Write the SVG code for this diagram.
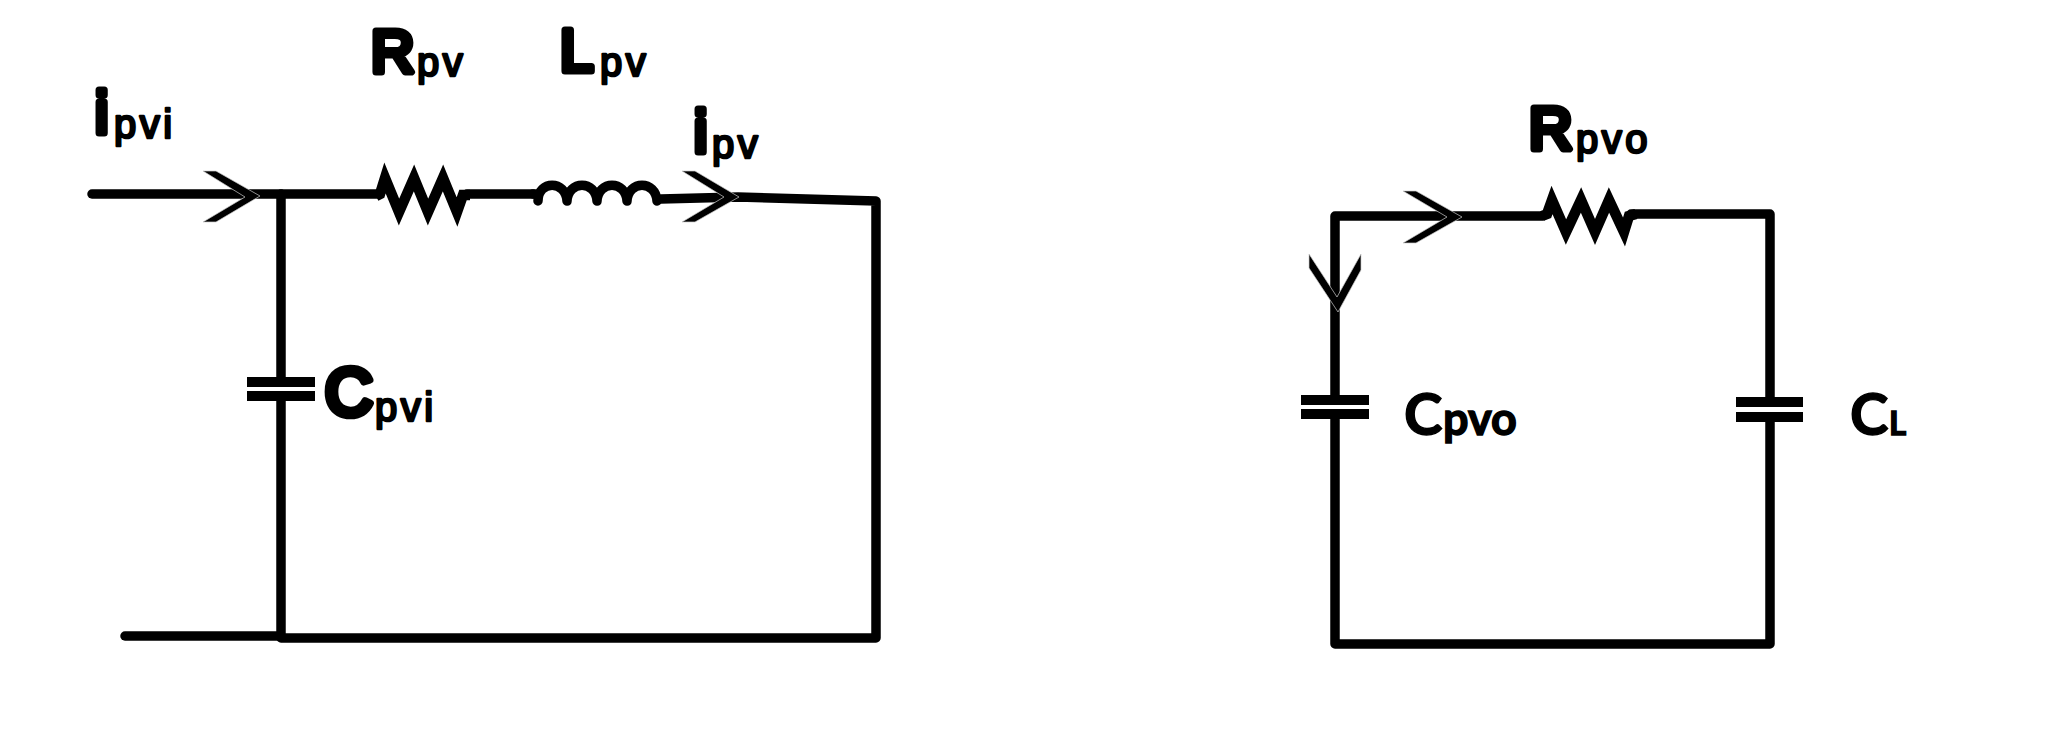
<svg xmlns="http://www.w3.org/2000/svg" width="2055" height="730" viewBox="0 0 2055 730">
<style>
.w{fill:none;stroke:#000;stroke-width:9.5;stroke-linecap:round;stroke-linejoin:round}
.z{fill:none;stroke:#000;stroke-width:10.5;stroke-linecap:butt;stroke-linejoin:miter;stroke-miterlimit:10}
.coil{fill:none;stroke:#000;stroke-width:9.5;stroke-linecap:round;stroke-linejoin:round}
.a{fill:#000;stroke:#ccc;stroke-width:.7}
.p{fill:#000}
.r{font-family:"Liberation Sans",Arial,sans-serif;font-weight:400;fill:#000;stroke:#000;stroke-linejoin:round;stroke-linecap:round}
.r .b{font-size:60px;stroke-width:7}
.r .s{font-size:40px;stroke-width:2.5;letter-spacing:3.5px}
.r .k{font-size:66px;stroke-width:7.5}
.c{font-family:Lato,"Liberation Sans",sans-serif;font-weight:700;fill:#000;stroke:#000;stroke-width:1.4}
</style>
<rect width="2055" height="730" fill="#fff"/>
<g id="connectors">
<path class="w" d="M92 194H378"/>
<path class="w" d="M281 194V377"/>
<path class="w" d="M281 401V637"/>
<path class="w" d="M467 194H533"/>
<path class="w" d="M661 199L738 197L876 201V638H281"/>
<path class="w" d="M125 636H281"/>
<path class="w" d="M1335 395V216H1543"/>
<path class="w" d="M1335 419V644H1770V421"/>
<path class="w" d="M1631 214H1770V397"/>
</g>
<g id="arrow-ipvi"><path class="a" d="M203 171H216L260 196L216 222H203L245 197Z"/></g>
<g id="arrow-ipv"><path class="a" d="M682 171H695L739 197L695 222H682L724 197Z"/></g>
<g id="arrow-top"><path class="a" d="M1403 191H1416L1462 217L1416 243H1403L1447 217Z"/></g>
<g id="arrow-down"><path class="a" d="M1309 254L1337 297L1361 254V270L1338 312L1309 268Z"/></g>
<g id="Rpv"><path class="z" d="M376 196L380 194L385 178L399 212L414 178L428 212L443 178L457 212L463 195H470"/></g>
<g id="Lpv"><path class="coil" d="M533 194H537M538 201C538 180 566 180 567 201C568 180 596 180 597 201C598 180 626 180 627 201C628 180 656 180 657 201"/></g>
<g id="Cpvi"><rect class="p" x="247" y="377" width="68" height="10"/><rect class="p" x="247" y="391" width="68" height="10"/></g>
<g id="Rpvo"><path class="z" d="M1542 216L1547 214L1552 200L1566 232L1581 200L1595 232L1609 200L1624 232L1629 216L1636 214"/></g>
<g id="Cpvo"><rect class="p" x="1301" y="395" width="68" height="10"/><rect class="p" x="1301" y="409" width="68" height="10"/></g>
<g id="CL"><rect class="p" x="1736" y="397" width="67" height="10"/><rect class="p" x="1736" y="412" width="67" height="10"/></g>
<g id="labels">
<text class="r"><tspan class="b" x="95" y="133">i</tspan><tspan class="s" x="114" y="138">pvi</tspan></text>
<text class="r"><tspan class="b" x="371" y="72">R</tspan><tspan class="s" x="417" y="76">pv</tspan></text>
<text class="r"><tspan class="b" x="560" y="71">L</tspan><tspan class="s" x="600" y="76">pv</tspan></text>
<text class="r"><tspan class="b" x="694" y="152">i</tspan><tspan class="s" x="712" y="158">pv</tspan></text>
<text class="r"><tspan class="k" x="325" y="415">C</tspan><tspan class="s" x="375" y="421">pvi</tspan></text>
<text class="r"><tspan class="b" x="1529" y="149">R</tspan><tspan class="s" x="1576" y="153">pvo</tspan></text>
<text class="c"><tspan x="1404" y="435" font-size="58">C</tspan><tspan x="1443" y="435" font-size="45">pvo</tspan></text>
<text class="c"><tspan x="1850" y="435" font-size="58">C</tspan><tspan x="1889" y="435" font-size="33">L</tspan></text>
</g>
</svg>
